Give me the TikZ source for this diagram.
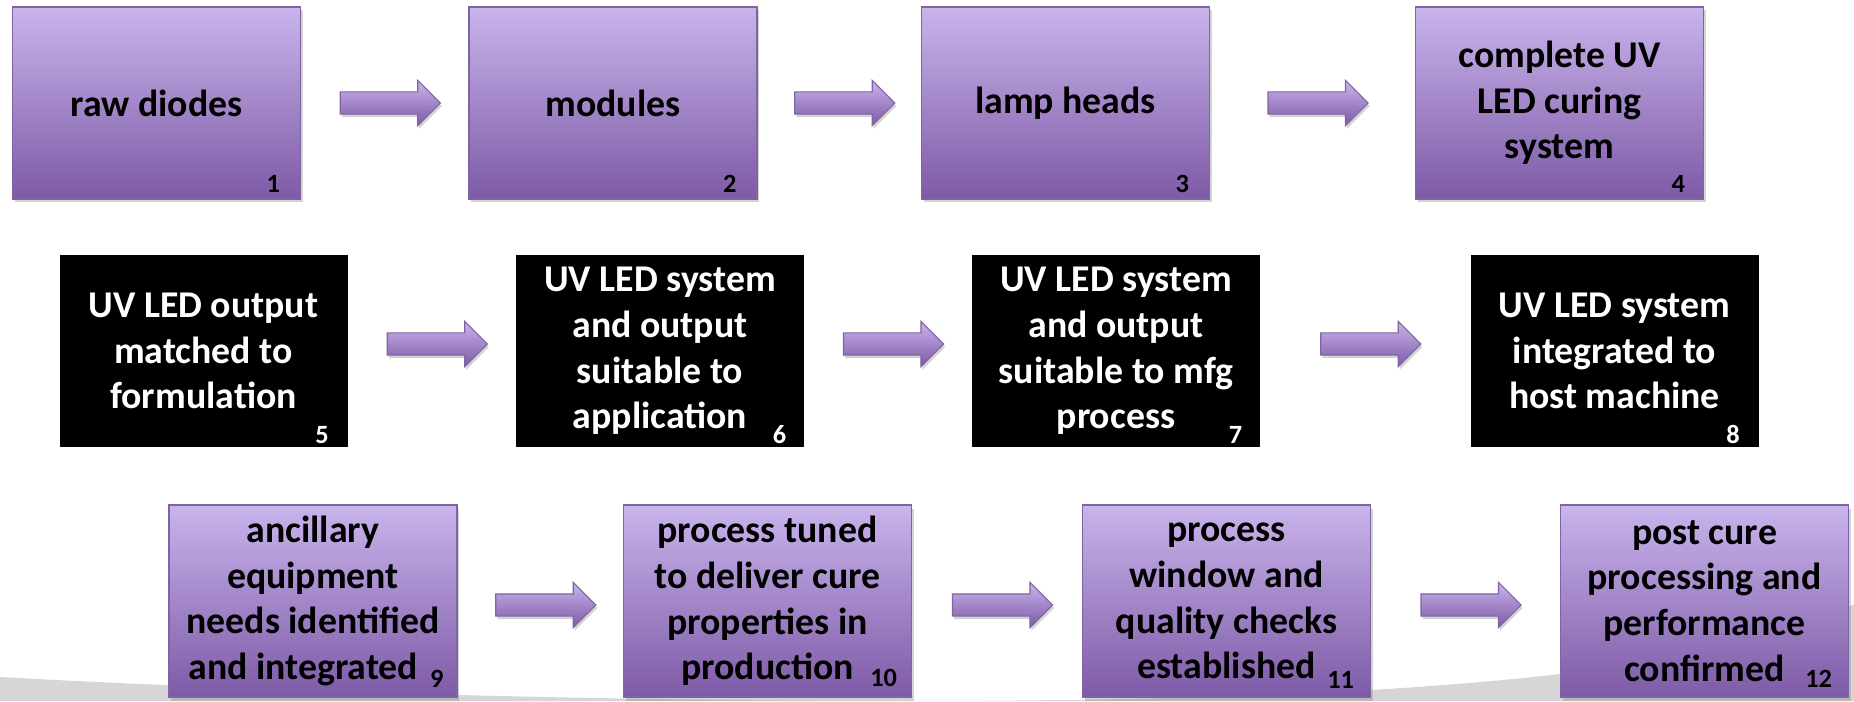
\documentclass[tikz,border=0pt]{standalone}
\usepackage{fontspec}
\setmainfont{Carlito}
\usepackage{tikz}
\usetikzlibrary{shapes.arrows,shadows,positioning,calc}

\definecolor{lavtop}{RGB}{201,180,236}
\definecolor{lavbot}{RGB}{125,90,166}
\definecolor{lavline}{RGB}{128,100,162}
\definecolor{swoosh}{RGB}{214,214,214}

\begin{document}
\begin{tikzpicture}[
    stage/.style={rectangle, minimum width=5.76cm, minimum height=3.84cm, inner sep=2pt, align=center, font=\fontsize{21.5}{26}\selectfont\bfseries},
    purplebox/.style={stage, draw=lavline, line width=0.8pt, top color=lavtop, bottom color=lavbot,
        drop shadow={shadow xshift=0.04cm, shadow yshift=-0.07cm, opacity=0.35}},
    blackbox/.style={stage, fill=black, text=white},
    fatarrow/.style={single arrow, draw=lavline, line width=0.6pt, top color=lavtop, bottom color=lavbot,
        minimum height=2cm, inner xsep=0pt, inner ysep=0.21cm, single arrow head extend=0.23cm,
        drop shadow={shadow xshift=0.03cm, shadow yshift=-0.06cm, opacity=0.35}},
    num/.style={anchor=base east, font=\fontsize{15}{17}\selectfont\bfseries}
]
\useasboundingbox (0,0) rectangle (37.08,14.02);

% background swoosh
\fill[swoosh] (0,0) -- (0,0.48) .. controls (5,0.2) and (12,0) .. (18,0)
    .. controls (27,0) and (34,0.4) .. (37.08,1.94) -- (37.08,0) -- cycle;

% Row 1
\node[purplebox] (b1) at (3.13, 11.96) {raw diodes};
\node[purplebox] (b2) at (12.26, 11.96) {modules};
\node[purplebox] (b3) at (21.31, 11.96) {lamp heads};
\node[purplebox] (b4) at (31.19, 11.96) {complete UV\\LED curing\\system};
\node[num] at ([shift={(-0.3,0.14)}]b1.south east) {1};
\node[num] at ([shift={(-0.3,0.14)}]b2.south east) {2};
\node[num] at ([shift={(-0.3,0.14)}]b3.south east) {3};
\node[num] at ([shift={(-0.26,0.14)}]b4.south east) {4};

% Row 2
\node[blackbox] (b5) at (4.07, 7.0) {UV LED output\\matched to\\formulation};
\node[blackbox] (b6) at (13.2, 7.0) {UV LED system\\and output\\suitable to\\application};
\node[blackbox] (b7) at (22.32, 7.0) {UV LED system\\and output\\suitable to mfg\\process};
\node[blackbox] (b8) at (32.29, 7.0) {UV LED system\\integrated to\\host machine};
\node[num, text=white] at ([shift={(-0.26,0.08)}]b5.south east) {5};
\node[num, text=white] at ([shift={(-0.24,0.08)}]b6.south east) {6};
\node[num, text=white] at ([shift={(-0.24,0.08)}]b7.south east) {7};
\node[num, text=white] at ([shift={(-0.26,0.08)}]b8.south east) {8};

% Row 3
\node[purplebox] (b9) at (6.26, 2.0) {ancillary\\equipment\\needs identified\\and integrated\phantom{0}};
\node[purplebox] (b10) at (15.35, 2.0) {process tuned\\to deliver cure\\properties in\\production};
\node[purplebox] (b11) at (24.53, 2.0) {process\\window and\\quality checks\\established};
\node[purplebox] (b12) at (34.09, 2.0) {post cure\\processing and\\performance\\confirmed};
\node[num] at ([shift={(-0.16,0.2)}]b9.south east) {9};
\node[num] at ([shift={(-0.18,0.22)}]b10.south east) {10};
\node[num] at ([shift={(-0.22,0.18)}]b11.south east) {11};
\node[num] at ([shift={(-0.22,0.2)}]b12.south east) {12};

% Arrows
\node[fatarrow] (a1) at ($(b1.east)!0.5!(b2.west)$) {};
\node[fatarrow] (a2) at ($(b2.east)!0.5!(b3.west)$) {};
\node[fatarrow] (a3) at ($(b3.east)!0.5!(b4.west)$) {};
\node[fatarrow] (a5) at ($(b5.east)!0.5!(b6.west)+(0,0.14)$) {};
\node[fatarrow] (a6) at ($(b6.east)!0.5!(b7.west)+(0,0.14)$) {};
\node[fatarrow] (a7) at ($(b7.east)!0.5!(b8.west)+(0,0.14)$) {};
\node[fatarrow] (a9) at ($(b9.east)!0.5!(b10.west)+(0,-0.08)$) {};
\node[fatarrow] (a10) at ($(b10.east)!0.5!(b11.west)+(0,-0.08)$) {};
\node[fatarrow] (a11) at ($(b11.east)!0.5!(b12.west)+(0,-0.08)$) {};

\end{tikzpicture}
\end{document}
